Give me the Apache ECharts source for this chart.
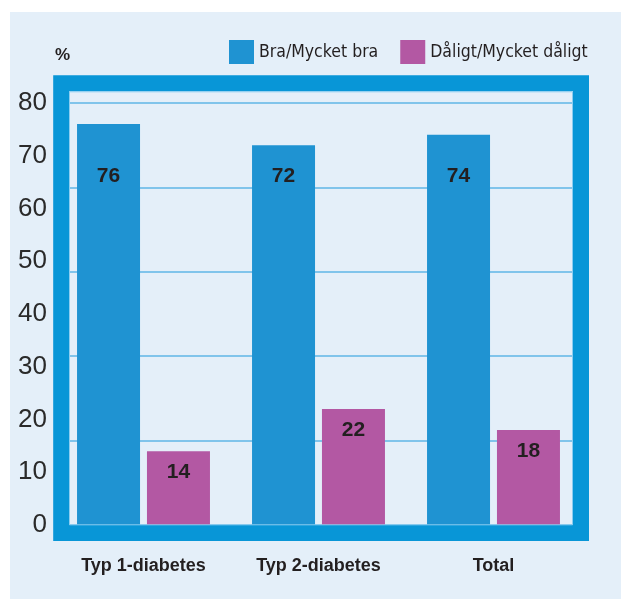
<!DOCTYPE html>
<html>
<head>
<meta charset="utf-8">
<script src="https://cdn.jsdelivr.net/npm/echarts@6/dist/echarts.min.js"></script>
<style>
  html, body { margin: 0; padding: 0; background: #ffffff; }
  #chart { width: 621px; height: 599px; }
</style>
</head>
<body>
<div id="chart"></div>
<script>
// Survey answers per diabetes group, in percent
const categories = ['Typ 1-diabetes', 'Typ 2-diabetes', 'Total'];
const seriesNames = ['Bra/Mycket bra', 'Dåligt/Mycket dåligt'];
const goodValues = [76, 72, 74];
const badValues = [14, 22, 18];
const yTickLabels = [0, 10, 20, 30, 40, 50, 60, 70, 80];

const BLUE = '#1f93d2';
const PURPLE = '#b358a3';
const FRAME = '#0896d7';
const PANEL = '#e4eff9';
const GRIDLINE = '#5fb6e6';
const TEXT = '#231f20';

const chart = echarts.init(document.getElementById('chart'), null, { renderer: 'canvas' });

const labelFont = { fontFamily: 'Liberation Sans, Arial, sans-serif', fontWeight: 'bold', fontSize: 21, color: TEXT };

function buildOption(goodLabelDistances) {
  return {
    backgroundColor: '#ffffff',
    animation: false,
    title: {
      text: '%',
      left: 55,
      top: 47,
      padding: 0,
      textStyle: { fontFamily: 'Liberation Sans, Arial, sans-serif', fontWeight: 'bold', fontSize: 17, color: TEXT }
    },
    legend: {
      data: seriesNames,
      left: 229,
      top: 40,
      width: 392,
      padding: 0,
      itemWidth: 25,
      itemHeight: 24,
      itemGap: 22,
      icon: 'rect',
      textStyle: {
        fontFamily: "'Liberation Sans Narrow', 'DejaVu Sans Condensed', sans-serif",
        fontSize: 17.5,
        color: TEXT,
        padding: [3, 0, 0, 0]
      }
    },
    grid: { left: 56, right: 40, top: 103, bottom: 74, containLabel: false },
    xAxis: {
      type: 'category',
      data: categories,
      axisLine: { show: false },
      axisTick: { show: false },
      axisLabel: { margin: 32, fontFamily: 'Liberation Sans, Arial, sans-serif', fontWeight: 'bold', fontSize: 18, color: TEXT }
    },
    yAxis: [
      {
        type: 'value',
        min: yTickLabels[0],
        max: yTickLabels[yTickLabels.length - 1],
        interval: yTickLabels[1] - yTickLabels[0],
        axisLine: { show: false },
        axisTick: { show: false },
        splitLine: { show: false },
        axisLabel: { margin: 9, fontFamily: 'Liberation Sans, Arial, sans-serif', fontSize: 26, color: '#2a2a2a' }
      },
      {
        // gridlines are spaced in five equal steps over the same range
        type: 'value',
        position: 'left',
        min: 0,
        max: 80,
        interval: 16,
        axisLine: { show: false },
        axisTick: { show: false },
        axisLabel: { show: false },
        splitLine: { show: true, lineStyle: { color: GRIDLINE, width: 1.5 } }
      }
    ],
    series: [
      {
        name: seriesNames[0],
        type: 'bar',
        yAxisIndex: 0,
        barWidth: 63,
        barGap: '11%',
        itemStyle: { color: BLUE },
        data: goodValues.map((v, i) => ({
          value: v,
          label: { distance: goodLabelDistances ? goodLabelDistances[i] : 10 }
        })),
        label: Object.assign({ show: true, position: 'insideTop' }, labelFont)
      },
      {
        name: seriesNames[1],
        type: 'bar',
        yAxisIndex: 0,
        barWidth: 63,
        barGap: '11%',
        itemStyle: { color: PURPLE },
        data: badValues,
        label: Object.assign({ show: true, position: 'insideTop', distance: 11 }, labelFont)
      }
    ],
    graphic: [
      {
        type: 'rect',
        z: -10,
        silent: true,
        shape: { x: 10, y: 12, width: 611, height: 587 },
        style: { fill: PANEL }
      },
      {
        // thick frame around the plot area
        type: 'rect',
        z: 100,
        silent: true,
        shape: { x: 61.2, y: 83.3, width: 519.8, height: 449.7 },
        style: { fill: null, stroke: FRAME, lineWidth: 16 }
      },
      {
        type: 'rect',
        z: 101,
        silent: true,
        shape: { x: 69.5, y: 91.8, width: 503, height: 433 },
        style: { fill: null, stroke: '#8ccdf0', lineWidth: 1 }
      }
    ]
  };
}

chart.setOption(buildOption(null));

// Blue labels sit on one common line across the three bars
const labelTopPx = chart.convertToPixel({ yAxisIndex: 0 }, 68.2);
const distances = goodValues.map(v => labelTopPx - chart.convertToPixel({ yAxisIndex: 0 }, v));
chart.setOption(buildOption(distances));
</script>
</body>
</html>
